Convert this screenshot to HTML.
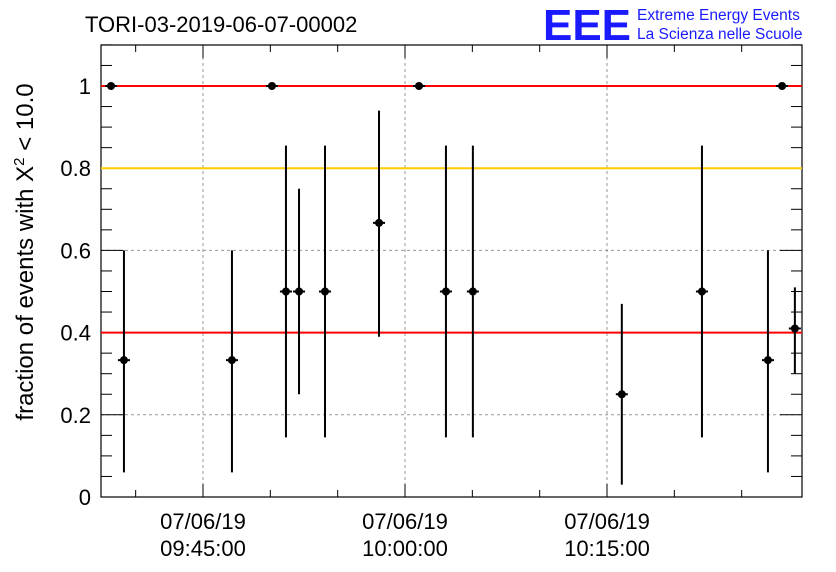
<!DOCTYPE html>
<html><head><meta charset="utf-8"><style>
body{margin:0;background:#fff;}
svg{display:block;font-family:"Liberation Sans",sans-serif;}
</style></head><body>
<svg id="c" width="836" height="572" viewBox="0 0 836 572">
<rect width="836" height="572" fill="#fff"/>
<text x="85" y="32" font-size="22">TORI-03-2019-06-07-00002</text>
<g>
<text x="543" y="40" font-size="44" font-weight="bold" fill="#1a1aff" textLength="88" lengthAdjust="spacingAndGlyphs">EEE</text>
<text x="637" y="20" font-size="15.5" fill="#1a1aff">Extreme Energy Events</text>
<text x="637" y="39" font-size="15.5" fill="#1a1aff">La Scienza nelle Scuole</text>
</g>
<text transform="translate(33,252) rotate(-90)" text-anchor="middle" font-size="24">fraction of events with X<tspan dy="-9" font-size="15">2</tspan><tspan dy="9"> &lt; 10.0</tspan></text>
<g id="grid"></g><g id="axes"></g><g id="lines"></g><g id="marks"></g>
</svg>
<script>
const xMinutes=[-6.83,-5.87,2.15,5.12,6.16,7.13,9.06,13.07,16.04,18.04,20.04,31.1,37.05,41.95,43.0,43.95];
const yValues=[1,0.333,0.333,1,0.5,0.5,0.5,0.667,1,0.5,0.5,0.25,0.5,0.333,1,0.41];
const yLow=[1,0.06,0.06,1,0.145,0.25,0.145,0.39,1,0.145,0.145,0.03,0.145,0.06,1,0.3];
const yHigh=[1,0.6,0.6,1,0.855,0.75,0.855,0.94,1,0.855,0.855,0.47,0.855,0.6,1,0.51];
const yTicks=[0,0.2,0.4,0.6,0.8,1];
const yTickLabels=["0","0.2","0.4","0.6","0.8","1"];
const xTicks=[0,15,30];
const xTickLabels=[["07/06/19","09:45:00"],["07/06/19","10:00:00"],["07/06/19","10:15:00"]];
const refLines=[{v:1,c:"#ff0000"},{v:0.8,c:"#ffcc00"},{v:0.4,c:"#ff0000"}];
const L=101,R=802,T=45,B=497;
const X=m=>203+m*13.467;
const Y=v=>B-v*411;
const NS="http://www.w3.org/2000/svg";
function mk(p,t,a){const e=document.createElementNS(NS,t);for(const k in a)e.setAttribute(k,a[k]);document.getElementById(p).appendChild(e);return e;}
yTicks.forEach((v,i)=>{if(v>0&&v<1){const g=mk('grid','line',{x1:L,x2:R,y1:Y(v),y2:Y(v),stroke:'#999','stroke-dasharray':'3,3'});

}});
xTicks.forEach(m=>{const g=mk('grid','line',{x1:X(m),x2:X(m),y1:T,y2:B,stroke:'#999','stroke-dasharray':'3,3'});

});
const f=mk('axes','rect',{x:L,y:T,width:R-L,height:B-T,fill:'none',stroke:'#000','stroke-width':1.2});


for(let v=0;v<=1.1001;v+=0.05){const major=Math.abs(v*5-Math.round(v*5))<1e-6;const len=major?22:11;
mk('axes','line',{x1:L,x2:L+len,y1:Y(v),y2:Y(v),stroke:'#000'});
mk('axes','line',{x1:R,x2:R-len,y1:Y(v),y2:Y(v),stroke:'#000'});}
yTicks.forEach((v,i)=>{const t=mk('axes','text',{x:L-10,y:Y(v)+8,'text-anchor':'end','font-size':22});t.textContent=yTickLabels[i];

});
for(let m=-5;m<=43;m+=5){const major=m%15===0;const len=major?13:7;
mk('axes','line',{x1:X(m),x2:X(m),y1:B,y2:B-len,stroke:'#000'});
mk('axes','line',{x1:X(m),x2:X(m),y1:T,y2:T+len,stroke:'#000'});}
xTicks.forEach((m,i)=>{xTickLabels[i].forEach((s,j)=>{const t=mk('axes','text',{x:X(m),y:529+j*27,'text-anchor':'middle','font-size':22});t.textContent=s;

});});
refLines.forEach(r=>{const l=mk('lines','line',{x1:L,x2:R,y1:Y(r.v),y2:Y(r.v),stroke:r.c,'stroke-width':2});

});
xMinutes.forEach((m,i)=>{const x=X(m),y=Y(yValues[i]);
const e=mk('marks','line',{x1:x,x2:x,y1:Y(yLow[i]),y2:Y(yHigh[i]),stroke:'#000','stroke-width':2});


mk('marks','line',{x1:x-6,x2:x+6,y1:y,y2:y,stroke:'#000','stroke-width':2});
const c=mk('marks','circle',{cx:x,cy:y,r:4,fill:'#000'});

});
</script>
</body></html>
